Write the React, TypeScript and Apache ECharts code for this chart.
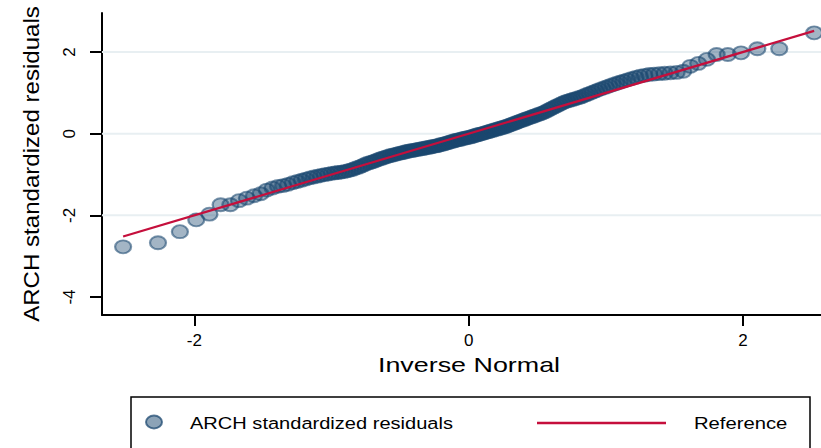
import React, { useEffect, useRef } from "react";
import * as echarts from "echarts";

// Sorted ARCH standardized residuals (n = 169)
const residuals: number[] = [
  -2.77, -2.67, -2.4, -2.11, -1.97, -1.74, -1.74, -1.64, -1.58, -1.52,
  -1.47, -1.38, -1.33, -1.29, -1.27, -1.24, -1.2, -1.17, -1.14, -1.11,
  -1.08, -1.06, -1.04, -1.02, -1.0, -0.99, -0.97, -0.96, -0.95, -0.94,
  -0.93, -0.91, -0.89, -0.87, -0.84, -0.82, -0.79, -0.76, -0.73, -0.71,
  -0.69, -0.67, -0.64, -0.62, -0.6, -0.58, -0.56, -0.54, -0.53, -0.51,
  -0.5, -0.48, -0.47, -0.46, -0.44, -0.43, -0.42, -0.41, -0.4, -0.39,
  -0.38, -0.37, -0.36, -0.35, -0.34, -0.33, -0.32, -0.31, -0.3, -0.29,
  -0.27, -0.26, -0.25, -0.23, -0.22, -0.2, -0.19, -0.17, -0.16, -0.15,
  -0.14, -0.12, -0.11, -0.1, -0.09, -0.08, -0.06, -0.05, -0.03, -0.02,
  -0.01, 0.01, 0.02, 0.04, 0.05, 0.07, 0.08, 0.1, 0.11, 0.13,
  0.14, 0.16, 0.17, 0.19, 0.21, 0.23, 0.25, 0.27, 0.29, 0.31,
  0.33, 0.35, 0.37, 0.39, 0.41, 0.43, 0.45, 0.47, 0.49, 0.51,
  0.54, 0.57, 0.6, 0.63, 0.66, 0.69, 0.72, 0.75, 0.78, 0.8,
  0.82, 0.84, 0.86, 0.88, 0.9, 0.93, 0.96, 0.99, 1.02, 1.05,
  1.08, 1.11, 1.14, 1.17, 1.2, 1.23, 1.26, 1.29, 1.32, 1.35,
  1.38, 1.41, 1.43, 1.45, 1.46, 1.47, 1.48, 1.49, 1.5, 1.53,
  1.65, 1.72, 1.82, 1.94, 1.94, 1.98, 2.08, 2.08, 2.47,
];

const xTicks = [-2, 0, 2];
const yTicks = [-4, -2, 0, 2];
const yGridValues = [-2, 0, 2];

const xRange: [number, number] = [-2.673, 2.569];
const yRange: [number, number] = [-4.44, 2.956];

const xTitle = "Inverse Normal";
const yTitle = "ARCH standardized residuals";
const scatterName = "ARCH standardized residuals";
const referenceName = "Reference";

const RED = "#c50f3c";
const GRID = "#e8eff2";
const FONT = "'Liberation Sans', Arial, Helvetica, sans-serif";

// Standard normal quantile (Acklam's rational approximation)
function invNormal(p: number): number {
  const a = [-39.69683028665376, 220.9460984245205, -275.9285104469687, 138.357751867269, -30.66479806614716, 2.506628277459239];
  const b = [-54.47609879822406, 161.5858368580409, -155.6989798598866, 66.80131188771972, -13.28068155288572];
  const c = [-0.007784894002430293, -0.3223964580411365, -2.400758277161838, -2.549732539343734, 4.374664141464968, 2.938163982698783];
  const d = [0.007784695709041462, 0.3224671290700398, 2.445134137142996, 3.754408661907416];
  const pLow = 0.02425;
  if (p < pLow) {
    const q = Math.sqrt(-2 * Math.log(p));
    return (((((c[0] * q + c[1]) * q + c[2]) * q + c[3]) * q + c[4]) * q + c[5]) /
      ((((d[0] * q + d[1]) * q + d[2]) * q + d[3]) * q + 1);
  }
  if (p <= 1 - pLow) {
    const q = p - 0.5;
    const r = q * q;
    return ((((((a[0] * r + a[1]) * r + a[2]) * r + a[3]) * r + a[4]) * r + a[5]) * q) /
      (((((b[0] * r + b[1]) * r + b[2]) * r + b[3]) * r + b[4]) * r + 1);
  }
  const q = Math.sqrt(-2 * Math.log(1 - p));
  return -(((((c[0] * q + c[1]) * q + c[2]) * q + c[3]) * q + c[4]) * q + c[5]) /
    ((((d[0] * q + d[1]) * q + d[2]) * q + d[3]) * q + 1);
}

// Normal plotting positions i/(n+1) against the sorted residuals
const n = residuals.length;
const qqPoints = residuals.map((y, i) => [invNormal((i + 1) / (n + 1)), y]);
const xFirst = qqPoints[0][0];
const xLast = qqPoints[n - 1][0];
const referenceLine = [[xFirst, xFirst], [xLast, xLast]];

const ELLIPSE = "path://M0,50A50,50,0,1,0,100,50A50,50,0,1,0,0,50Z";

export default function App() {
  const ref = useRef<HTMLDivElement>(null);

  useEffect(() => {
    if (!ref.current) return;
    const chart = echarts.init(ref.current, null, { renderer: "svg" });

    const gridSeries = yGridValues.map((v) => ({
      type: "line" as const,
      silent: true,
      z: 1,
      symbol: "none",
      data: [[xRange[0], v], [xRange[1], v]],
      lineStyle: { color: GRID, width: 2 },
    }));

    chart.setOption({
      animation: false,
      backgroundColor: "#ffffff",
      grid: { left: 102, right: 0, top: 13, bottom: 133 },
      xAxis: {
        type: "value",
        min: xRange[0],
        max: xRange[1],
        axisLine: { show: true, onZero: false, lineStyle: { color: "#000", width: 2 } },
        axisTick: { show: true, customValues: xTicks, length: 11, lineStyle: { color: "#000", width: 2 } },
        axisLabel: { customValues: xTicks, fontSize: 17, color: "#000", margin: 17, fontFamily: FONT },
        splitLine: { show: false },
      },
      yAxis: {
        type: "value",
        min: yRange[0],
        max: yRange[1],
        axisLine: { show: true, onZero: false, lineStyle: { color: "#000", width: 2 } },
        axisTick: { show: true, customValues: yTicks, length: 12, lineStyle: { color: "#000", width: 2 } },
        axisLabel: { customValues: yTicks, rotate: 90, fontSize: 17, color: "#000", margin: 24, fontFamily: FONT },
        splitLine: { show: false },
      },
      series: [
        ...gridSeries,
        {
          name: scatterName,
          type: "scatter",
          z: 2,
          data: qqPoints,
          symbol: ELLIPSE,
          symbolSize: [16, 13],
          itemStyle: {
            color: "rgba(26,71,111,0.5)",
            borderColor: "rgba(26,71,111,0.72)",
            borderWidth: 2,
          },
        },
        {
          name: referenceName,
          type: "line",
          z: 3,
          symbol: "none",
          data: referenceLine,
          lineStyle: { color: RED, width: 2.2 },
        },
      ],
      graphic: [
        {
          type: "text",
          x: 31,
          y: 164,
          rotation: Math.PI / 2,
          scaleX: 1.12,
          style: { text: yTitle, fontSize: 21.5, fontFamily: FONT, fill: "#000", align: "center", verticalAlign: "middle" },
        },
        {
          type: "text",
          x: 469,
          y: 365,
          scaleX: 1.28,
          style: { text: xTitle, fontSize: 21, fontFamily: FONT, fill: "#000", align: "center", verticalAlign: "middle" },
        },
        {
          type: "group",
          children: [
            {
              type: "rect",
              shape: { x: 131, y: 397, width: 679, height: 70 },
              style: { fill: "#fff", stroke: "#000", lineWidth: 1.5 },
            },
            {
              type: "ellipse",
              shape: { cx: 154, cy: 422, rx: 8, ry: 6.5 },
              style: { fill: "rgba(26,71,111,0.5)", stroke: "rgba(26,71,111,0.72)", lineWidth: 2 },
            },
            {
              type: "text",
              x: 190,
              y: 423,
              scaleX: 1.18,
              style: { text: scatterName, fontSize: 17, fontFamily: FONT, fill: "#000", align: "left", verticalAlign: "middle" },
            },
            {
              type: "line",
              shape: { x1: 537, y1: 423, x2: 666, y2: 423 },
              style: { stroke: RED, lineWidth: 2.5 },
            },
            {
              type: "text",
              x: 694,
              y: 423,
              scaleX: 1.19,
              style: { text: referenceName, fontSize: 17, fontFamily: FONT, fill: "#000", align: "left", verticalAlign: "middle" },
            },
          ],
        },
      ],
    });

    return () => chart.dispose();
  }, []);

  return (
    <div
      ref={ref}
      style={{ position: "fixed", left: 0, top: 0, width: 821, height: 448, background: "#fff" }}
    />
  );
}
